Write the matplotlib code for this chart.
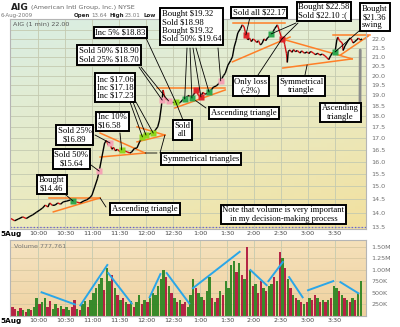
import numpy as np
import matplotlib.pyplot as plt
from matplotlib.collections import LineCollection
from matplotlib.patches import ConnectionPatch
from matplotlib.ticker import FixedLocator, NullLocator, FuncFormatter

# ---- data (minutes after 9:30, price in $) ----
price_t = [0, 4, 8, 13, 17, 21, 24, 28, 32, 35, 38, 41, 43, 46, 49, 52, 55, 58, 62, 66,
           69, 73, 77, 81, 84, 88, 90, 93, 96, 98, 101, 104, 106, 108, 110, 112, 114, 116,
           118, 121, 123, 126, 129, 132, 134, 137, 140, 143, 146, 148, 151, 154, 158, 161,
           163, 165, 167, 169, 171, 173, 175, 179, 183, 186, 188, 191, 193, 196, 198, 201,
           203, 206, 208, 211, 213, 216, 218, 220, 223, 225, 228, 231, 233, 236, 238, 241,
           244, 246, 248, 250, 252, 255, 257, 259, 261, 263, 265, 267, 269, 271, 273, 275,
           277, 279, 281, 283, 285, 287, 289, 291, 293, 296, 298, 300, 301, 303, 304, 306,
           307, 308, 310, 312, 314, 316, 318, 321, 323, 326, 329, 331, 333, 336, 338, 341,
           343, 346, 349, 351, 353, 355, 357, 360, 362, 363, 365, 368, 369, 371, 373, 375,
           377, 379, 380, 382, 384, 386, 388, 390]
price_p = [13.80, 13.72, 13.78, 13.86, 13.80, 13.88, 13.93, 14.02, 14.11, 14.18, 14.29, 14.22,
           14.37, 14.28, 14.29, 14.37, 14.32, 14.41, 14.44, 14.48, 14.44, 14.40, 14.37, 14.45,
           14.48, 14.58, 14.67, 14.98, 15.30, 15.61, 16.19, 16.79, 16.90, 16.70, 16.79, 16.52,
           16.60, 16.45, 16.52, 16.42, 16.49, 16.45, 16.41, 16.36, 16.40, 16.55, 16.58, 16.85,
           17.06, 17.14, 17.10, 17.20, 17.23, 17.40, 17.51, 17.82, 18.44, 19.27, 18.85, 18.80,
           18.73, 18.68, 18.68, 18.62, 18.65, 18.80, 18.83, 18.95, 19.00, 18.87, 19.05, 19.25,
           19.02, 18.92, 19.15, 19.05, 19.12, 19.17, 19.30, 19.42, 19.47, 19.60, 19.73, 20.00,
           20.12, 20.55, 20.80, 21.00, 21.55, 21.90, 22.35, 22.60, 22.82, 22.70, 22.23, 21.95,
           22.05, 21.85, 22.00, 21.92, 21.80, 21.90, 21.66, 21.75, 22.00, 21.90, 22.06, 22.15,
           22.29, 22.40, 22.60, 22.82, 22.50, 22.15, 22.00, 21.90, 21.70, 21.20, 20.70, 21.30,
           21.38, 21.25, 21.40, 21.28, 21.35, 21.21, 21.33, 21.20, 21.27, 21.18, 21.30, 21.21,
           21.12, 21.20, 21.10, 21.15, 21.05, 20.95, 20.85, 21.05, 21.21, 21.27, 21.94, 22.11,
           21.90, 21.77, 21.35, 21.60, 21.77, 21.95, 22.06, 21.90, 21.77, 21.85, 21.94, 22.05,
           21.94, 22.00]
prev_close = 13.5

# trade markers
trade_t = [69, 98, 110, 123, 146, 150, 158, 168, 175, 183, 193, 201, 206, 211, 220, 233,
           261, 289, 301, 360]
trade_p = [14.44, 15.61, 16.79, 16.49, 17.06, 17.14, 17.23, 18.77, 18.73, 18.68, 18.83,
           18.87, 19.25, 18.92, 19.17, 19.73, 22.23, 22.29, 22.00, 21.27]
trade_kind = ['buy', 'sell', 'sell', 'add', 'add', 'add', 'add', 'sell', 'sell', 'add',
              'buy', 'buy', 'loss', 'loss', 'buy', 'sell', 'loss', 'buy', 'loss', 'buy']

# orange pattern lines: (t1, p1, t2, p2)
pattern_lines = [
    (42, 14.56, 99, 14.56), (47, 14.04, 99, 14.56),
    (99, 17.23, 149, 16.36), (99, 16.19, 149, 16.36),
    (140, 17.51, 171, 17.14), (140, 16.84, 171, 17.14),
    (162, 19.37, 238, 19.37), (182, 18.39, 238, 19.27),
    (247, 22.93, 304, 22.93), (246, 20.73, 310, 22.11),
    (301, 22.00, 379, 20.89), (302, 20.40, 379, 20.89),
    (358, 22.23, 399, 22.23), (366, 21.10, 397, 22.17),
]

# volume, 3-minute bars, thousands of shares
vol_k = [200, 150, 100, 180, 120, 90, 150, 130, 200, 380,
         250, 300, 400, 200, 330, 150, 250, 180, 220, 150,
         200, 130, 200, 340, 150, 120, 250, 320, 200, 350,
         500, 600, 700, 820, 560, 1050, 750, 900, 600, 450,
         350, 400, 300, 250, 320, 200, 300, 450, 250, 350,
         300, 400, 500, 450, 650, 800, 1000, 850, 650, 500,
         400, 300, 350, 250, 300, 200, 450, 800, 600, 500,
         420, 350, 550, 850, 400, 300, 400, 550, 450, 750,
         600, 1100, 1200, 950, 1150, 900, 800, 1500, 1000, 650,
         700, 500, 750, 600, 550, 650, 700, 850, 750, 1400,
         1250, 1050, 800, 600, 450, 400, 350, 300, 250, 300,
         400, 350, 450, 400, 300, 350, 300, 350, 400, 650,
         600, 550, 450, 400, 350, 300, 400, 350, 500, 750]
vol_dir = ("rrgrgrgrgg" "rggrrggrgr" "ggrrgrggrg" "ggggrggrgr" "grgrgrggrg"
           "rggggggrgr" "grgrrgggrg" "grggrgrgrg" "gggrgrgrgr" "grrgrggrgr"
           "grgrgrgrgr" "grrgrgrgrg" "grgrgrgrgg")

# cyan volume trend lines: (t1, v1, t2, v2)
vol_lines = [(34, 515, 71, 252), (77, 230, 107, 1107), (108, 932, 134, 274),
             (154, 406, 166, 910), (173, 932, 198, 274), (202, 603, 254, 1393),
             (266, 998, 284, 669), (286, 757, 302, 1173), (309, 844, 324, 406),
             (330, 559, 358, 757), (366, 735, 386, 493)]

tick_t = [0, 30, 60, 90, 120, 150, 180, 210, 240, 270, 300, 330, 360]
tick_lab = ['5Aug', '10:00', '10:30', '11:00', '11:30', '12:00', '12:30', '1:00',
            '1:30', '2:00', '2:30', '3:00', '3:30']
price_ticks = list(np.arange(13.5, 22.51, 0.5))
vol_ticks = [250, 500, 750, 1000, 1250, 1500]
vol_tick_lab = ['250K', '500K', '750K', '1.00M', '1.25M', '1.50M']

# ---- figure ----
W, H = 400, 327
fig = plt.figure(figsize=(4.0, 3.27), dpi=100)


def rect(l, t, r, b):
    return [l / W, 1 - b / H, (r - l) / W, (b - t) / H]


def gradient(r, tl, tr, bl, br):
    bg = fig.add_axes(r, zorder=-1)
    bg.axis('off')
    u = np.linspace(0, 1, 64)
    X, Y = np.meshgrid(u, u)
    X, Y = X[..., None], Y[..., None]
    img = (np.array(tl) * (1 - X) * (1 - Y) + np.array(tr) * X * (1 - Y)
           + np.array(bl) * (1 - X) * Y + np.array(br) * X * Y)
    bg.imshow(img, aspect='auto', extent=[0, 1, 0, 1], origin='upper')


r_price = rect(10, 19, 366, 229)
r_vol = rect(10, 240, 366, 316)
gradient(r_price, (0.85, 0.93, 0.89), (0.90, 0.94, 0.84), (0.93, 0.92, 0.74), (0.95, 0.88, 0.62))
gradient(r_vol, (0.96, 0.89, 0.76), (0.96, 0.88, 0.73), (0.94, 0.83, 0.64), (0.94, 0.82, 0.62))

ax = fig.add_axes(r_price)
axv = fig.add_axes(r_vol)
for a in (ax, axv):
    a.patch.set_visible(False)
    for s in a.spines.values():
        s.set_color('#b5b5b5')
        s.set_linewidth(0.8)
    a.set_xlim(-1.1, 394.4)
    a.set_xticks(tick_t)
    a.set_xticklabels(tick_lab)
    a.tick_params(axis='x', length=0, pad=1.5, labelsize=4.6, labelcolor='#444444')
    a.yaxis.tick_right()
    a.tick_params(axis='y', length=0, pad=4, labelsize=4.6, labelcolor='#707070')
    lab0 = a.get_xticklabels()[0]
    lab0.set_fontweight('bold')
    lab0.set_color('black')
    lab0.set_fontsize(5.2)
    for t in tick_t[1:]:
        a.axvline(t, color='#c4cab0', lw=0.6, zorder=0)

# price panel
ax.set_yscale('log')
ax.set_ylim(13.43, 23.17)
ax.yaxis.set_major_locator(FixedLocator(price_ticks))
ax.yaxis.set_minor_locator(NullLocator())
ax.yaxis.set_major_formatter(FuncFormatter(lambda v, _: '%.1f' % v))
for p in price_ticks:
    ax.axhline(p, color='#c4cab0', lw=0.6, zorder=0)
ax.axhline(prev_close, color='#6a5acd', lw=0.9, ls=':', zorder=1)

pt = np.array(price_t)
pp = np.array(price_p)
segs = np.stack([np.column_stack([pt[:-1], pp[:-1]]), np.column_stack([pt[1:], pp[1:]])], axis=1)
seg_col = ['#d01010' if b < a else 'black' for a, b in zip(pp[:-1], pp[1:])]
ax.add_collection(LineCollection(segs, colors=seg_col, linewidths=1.0, zorder=3))

for t1, p1, t2, p2 in pattern_lines:
    ax.plot([t1, t2], [p1, p2], color='#ff7f27', lw=1.1, zorder=2, clip_on=False)

kind_color = {'buy': '#2fa84f', 'sell': '#f5a3b5', 'add': '#8fd61c', 'loss': '#e0262b'}
for t, p, k in zip(trade_t, trade_p, trade_kind):
    ax.plot(t, p, 's', ms=4.5, color=kind_color[k], mec='none', zorder=4)

# volume panel
axv.set_ylim(0, 1650)
axv.yaxis.set_major_locator(FixedLocator(vol_ticks))
axv.set_yticklabels(vol_tick_lab)
for v in vol_ticks:
    axv.axhline(v, color='#d8c8a0', lw=0.6, zorder=0)
vt = 1.5 + 3 * np.arange(len(vol_k))
vcol = ['#2a8420' if d == 'g' else '#b0143c' for d in vol_dir]
axv.bar(vt, vol_k, width=2.6, color=vcol, alpha=0.92, zorder=2)
for t1, v1, t2, v2 in vol_lines:
    axv.plot([t1, t2], [v1, v2], color='#2aa6e8', lw=1.4, zorder=3)

# ---- overlay in reference pixel coordinates ----
ov = fig.add_axes([0, 0, 1, 1], zorder=10)
ov.set_xlim(0, W)
ov.set_ylim(H, 0)
ov.axis('off')
ov.patch.set_visible(False)

hdr = dict(family='DejaVu Sans', va='baseline', zorder=1)
ov.text(11, 9.5, 'AIG', fontsize=6.5, weight='bold', color='#222222', **hdr)
ov.text(31, 9.5, '(American Intl Group, Inc.) NYSE', fontsize=4.6, color='#666666', **hdr)
ov.text(1, 17, '6-Aug-2009', fontsize=4.0, color='#777777', **hdr)
ov.text(74, 17, 'Open', fontsize=4.0, weight='bold', color='#222222', **hdr)
ov.text(91, 17, '13.64', fontsize=4.0, color='#777777', **hdr)
ov.text(109, 17, 'High', fontsize=4.0, weight='bold', color='#222222', **hdr)
ov.text(125, 17, '23.01', fontsize=4.0, color='#777777', **hdr)
ov.text(144, 17, 'Low', fontsize=4.0, weight='bold', color='#222222', **hdr)
ov.text(13, 26, 'AIG (1 min) 22.00', fontsize=4.6, color='#555555', **hdr)
ov.text(14, 248, 'Volume 777,761', fontsize=4.6, color='#777777', **hdr)

boxes = [
    ('Inc 5% $18.83', 120.5, 32.5, 'center'),
    ('Sold 50% $18.90\nSold 25% $18.70', 109, 55, 'left'),
    ('Inc $17.06\nInc $17.18\nInc $17.23', 115, 87.5, 'left'),
    ('Bought $19.32\nSold $18.98\nBought $19.32\nSold 50% $19.64', 191.5, 26.5, 'left'),
    ('Sold all $22.17', 259, 12.5, 'center'),
    ('Bought $22.58\nSold $22.10 :(', 324, 11.5, 'left'),
    ('Bought\n$21.36\nswing', 375, 17, 'left'),
    ('Only loss\n(-2%)', 251, 86, 'center'),
    ('Symmetrical\ntriangle', 301.5, 86, 'center'),
    ('Ascending\ntriangle', 340.5, 112.5, 'center'),
    ('Ascending triangle', 244, 113, 'center'),
    ('Symmetrical triangles', 201, 159, 'center'),
    ('Sold\nall', 182.5, 130, 'center'),
    ('Inc 10%\n$16.58', 112.5, 121.5, 'left'),
    ('Sold 25%\n$16.89', 74.5, 135, 'center'),
    ('Sold 50%\n$15.64', 71.5, 159, 'center'),
    ('Bought\n$14.46', 52, 184.5, 'left'),
    ('Ascending triangle', 145, 209, 'center'),
    ('Note that volume is very important\nin my decision-making process', 283.5, 214.5, 'center'),
]
for txt, cx, cy, al in boxes:
    ov.text(cx, cy, txt, ha='center', va='center', ma=al, family='Liberation Serif',
            fontsize=6.2, linespacing=1.05, zorder=5,
            bbox=dict(boxstyle='square,pad=0.2', fc='white', ec='black', lw=1.4))


def leader(sx, sy, t, p, lw=0.6, color='black'):
    cp = ConnectionPatch(xyA=(sx, sy), coordsA=ov.transData, xyB=(t, p), coordsB=ax.transData,
                         color=color, lw=lw, zorder=4)
    ov.add_artist(cp)


def leader_trade(sx, sy, i):
    leader(sx, sy, trade_t[i], trade_p[i])


leader_trade(146, 38, 9)
leader_trade(139, 67, 7)
leader_trade(141, 67, 8)
leader_trade(130, 102, 4)
leader_trade(133, 102, 5)
leader_trade(136, 102, 6)
for sx, i in [(187, 10), (190, 11), (193, 13), (196, 14), (218, 15)]:
    leader_trade(sx, 48, i)
leader_trade(250, 17, 16)
leader_trade(296, 23, 17)
leader_trade(298, 23, 18)
leader_trade(359, 31, 19)
leader_trade(258, 75, 18)
leader(305, 75, 329, 20.57)
leader(360, 102, 388, 21.38, lw=2, color='#8a8a8a')
leader(206, 108, 205, 18.75)
leader(157, 153, 149, 16.36)
leader(160, 153, 171, 17.14)
leader_trade(183, 120, 9)
leader_trade(120, 133, 3)
leader_trade(95, 135, 2)
leader_trade(91, 165, 1)
leader_trade(66, 195, 0)
leader(106, 207, 99, 14.56)

fig.savefig('out.png', dpi=100)
